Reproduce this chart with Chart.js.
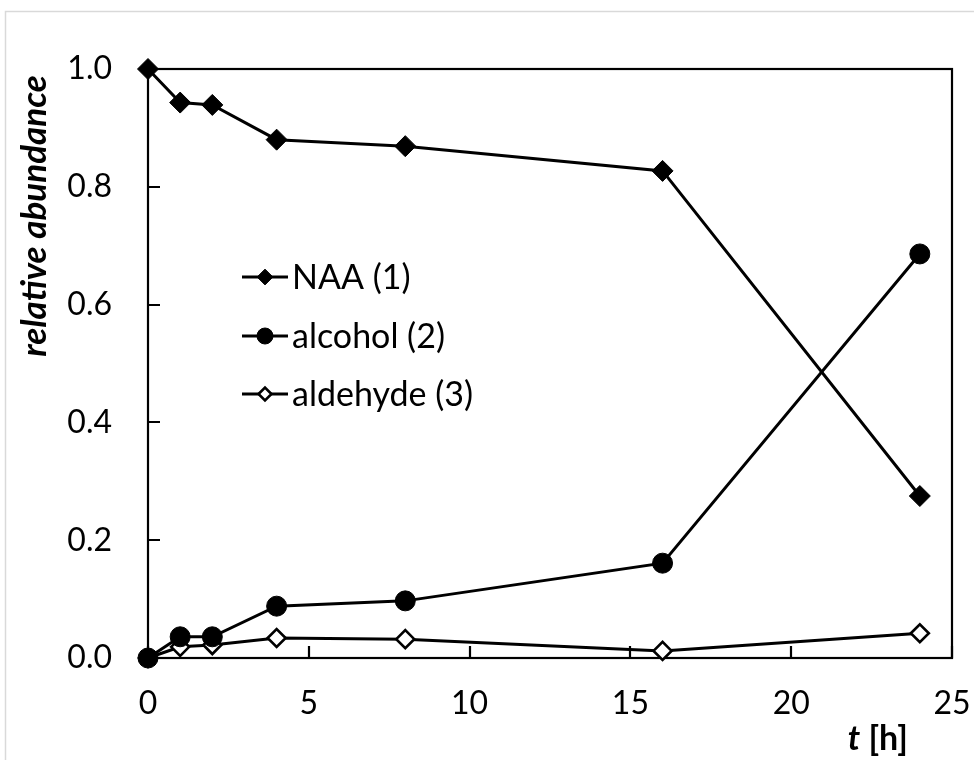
<!DOCTYPE html>
<html>
<head>
<meta charset="utf-8">
<script src="https://cdn.jsdelivr.net/npm/chart.js@4.4.1/dist/chart.umd.min.js"></script>
<style>
  body { margin: 0; background: #fff; }
  #wrap { width: 974px; height: 760px; }
</style>
</head>
<body>
<div id="wrap"><canvas id="abundance" width="974" height="760"></canvas></div>
<script>
// sampling times [h] and relative abundance of each compound
var hours = [0, 1, 2, 4, 8, 16, 24];
var naa = [1.0, 0.943, 0.939, 0.880, 0.869, 0.827, 0.275];
var alcohol = [0.0, 0.036, 0.036, 0.088, 0.097, 0.161, 0.686];
var aldehyde = [0.0, 0.019, 0.022, 0.034, 0.032, 0.012, 0.042];
var seriesNames = ["NAA (1)", "alcohol (2)", "aldehyde (3)"];
var yTicks = [0, 0.2, 0.4, 0.6, 0.8, 1.0];
var xTicks = [0, 5, 10, 15, 20, 25];

var FONT = "Lato, 'Open Sans', sans-serif";

function pairs(ys) {
  return hours.map(function (h, i) { return {x: h, y: ys[i]}; });
}

// light chart-area border, plot frame and inward tick marks
var frame = {
  id: "frame",
  beforeDraw: function (chart) {
    var ctx = chart.ctx;
    ctx.save();
    ctx.strokeStyle = "#d9d9d9";
    ctx.lineWidth = 1.5;
    ctx.strokeRect(5.5, 11.5, 1000, 1000);
    ctx.restore();
  },
  beforeDatasetsDraw: function (chart) {
    var ctx = chart.ctx, a = chart.chartArea;
    var xs = chart.scales.x, ys = chart.scales.y;
    ctx.save();
    ctx.strokeStyle = "#000";
    ctx.lineWidth = 2.2;
    ctx.strokeRect(a.left, a.top, a.right - a.left, a.bottom - a.top);
    ctx.beginPath();
    yTicks.forEach(function (v) {
      var py = Math.round(ys.getPixelForValue(v));
      ctx.moveTo(a.left, py);
      ctx.lineTo(a.left + 12, py);
    });
    xTicks.forEach(function (v) {
      var px = Math.round(xs.getPixelForValue(v));
      ctx.moveTo(px, a.bottom);
      ctx.lineTo(px, a.bottom - 12);
    });
    ctx.stroke();
    ctx.restore();
  },
  afterDraw: function (chart) {
    var ctx = chart.ctx;
    ctx.save();
    ctx.fillStyle = "#000";

    // y axis title
    ctx.save();
    ctx.translate(35, 216);
    ctx.rotate(-Math.PI / 2);
    ctx.font = "italic bold 35px " + FONT;
    ctx.textAlign = "center";
    ctx.textBaseline = "middle";
    ctx.fillText("relative abundance", 0, 0);
    ctx.restore();

    // x axis title: italic t, upright unit
    ctx.textBaseline = "middle";
    ctx.textAlign = "left";
    var fT = "italic bold 34px " + FONT, fU = "bold 34px " + FONT;
    ctx.font = fU;
    var wU = ctx.measureText(" [h]").width;
    ctx.font = fT;
    var wT = ctx.measureText("t").width;
    var x0 = 908 - wU - wT;
    ctx.fillText("t", x0, 739);
    ctx.font = fU;
    ctx.fillText(" [h]", x0 + wT, 739);

    // legend inside the plot
    var rows = [277, 336, 394];
    var scale = [0.75, 0.8, 0.72];
    chart.data.datasets.forEach(function (ds, i) {
      var y = rows[i];
      ctx.strokeStyle = "#000";
      ctx.lineWidth = 2.8;
      ctx.beginPath();
      ctx.moveTo(242, y);
      ctx.lineTo(288, y);
      ctx.stroke();
      ctx.fillStyle = ds.pointBackgroundColor;
      ctx.strokeStyle = ds.pointBorderColor;
      ctx.lineWidth = ds.pointBorderWidth;
      Chart.helpers.drawPoint(ctx, {
        pointStyle: ds.pointStyle,
        radius: ds.pointRadius * scale[i],
        rotation: 0,
        borderWidth: ds.pointBorderWidth
      }, 265, y);
      ctx.fillStyle = "#000";
      ctx.font = "34px " + FONT;
      ctx.textAlign = "left";
      ctx.textBaseline = "middle";
      ctx.fillText(ds.label, 292, y + 1);
    });
    ctx.restore();
  }
};

new Chart(document.getElementById("abundance"), {
  type: "line",
  data: {
    datasets: [{
      label: seriesNames[0],
      data: pairs(naa),
      borderColor: "#000",
      borderWidth: 3,
      pointStyle: "rectRot",
      pointRadius: 10.5,
      pointBackgroundColor: "#000",
      pointBorderColor: "#000",
      pointBorderWidth: 1,
      clip: false
    }, {
      label: seriesNames[1],
      data: pairs(alcohol),
      borderColor: "#000",
      borderWidth: 3,
      pointStyle: "circle",
      pointRadius: 10,
      pointBackgroundColor: "#000",
      pointBorderColor: "#000",
      pointBorderWidth: 1,
      clip: false
    }, {
      label: seriesNames[2],
      data: pairs(aldehyde),
      borderColor: "#000",
      borderWidth: 3,
      pointStyle: "rectRot",
      pointRadius: 9,
      pointBackgroundColor: "#fff",
      pointBorderColor: "#000",
      pointBorderWidth: 2.6,
      clip: false
    }]
  },
  options: {
    responsive: false,
    animation: false,
    events: [],
    layout: {padding: {top: 69, right: 22, left: 0, bottom: 0}},
    plugins: {legend: {display: false}, tooltip: {enabled: false}},
    scales: {
      x: {
        type: "linear",
        min: 0, max: 25,
        afterFit: function (s) { s.height = 102; s.paddingLeft = 0; s.paddingRight = 0; },
        afterBuildTicks: function (s) { s.ticks = xTicks.map(function (v) { return {value: v}; }); },
        grid: {display: false, drawTicks: false, tickLength: 0},
        border: {display: false},
        ticks: {color: "#000", padding: 26, maxRotation: 0, font: {family: FONT, size: 32}}
      },
      y: {
        min: 0, max: 1,
        afterFit: function (s) { s.width = 148; s.paddingTop = 0; s.paddingBottom = 0; },
        afterBuildTicks: function (s) { s.ticks = yTicks.map(function (v) { return {value: v}; }); },
        grid: {display: false, drawTicks: false, tickLength: 0},
        border: {display: false},
        ticks: {
          color: "#000", padding: 36, font: {family: FONT, size: 32},
          callback: function (v) { return v.toFixed(1); }
        }
      }
    }
  },
  plugins: [frame]
});
</script>
</body>
</html>
